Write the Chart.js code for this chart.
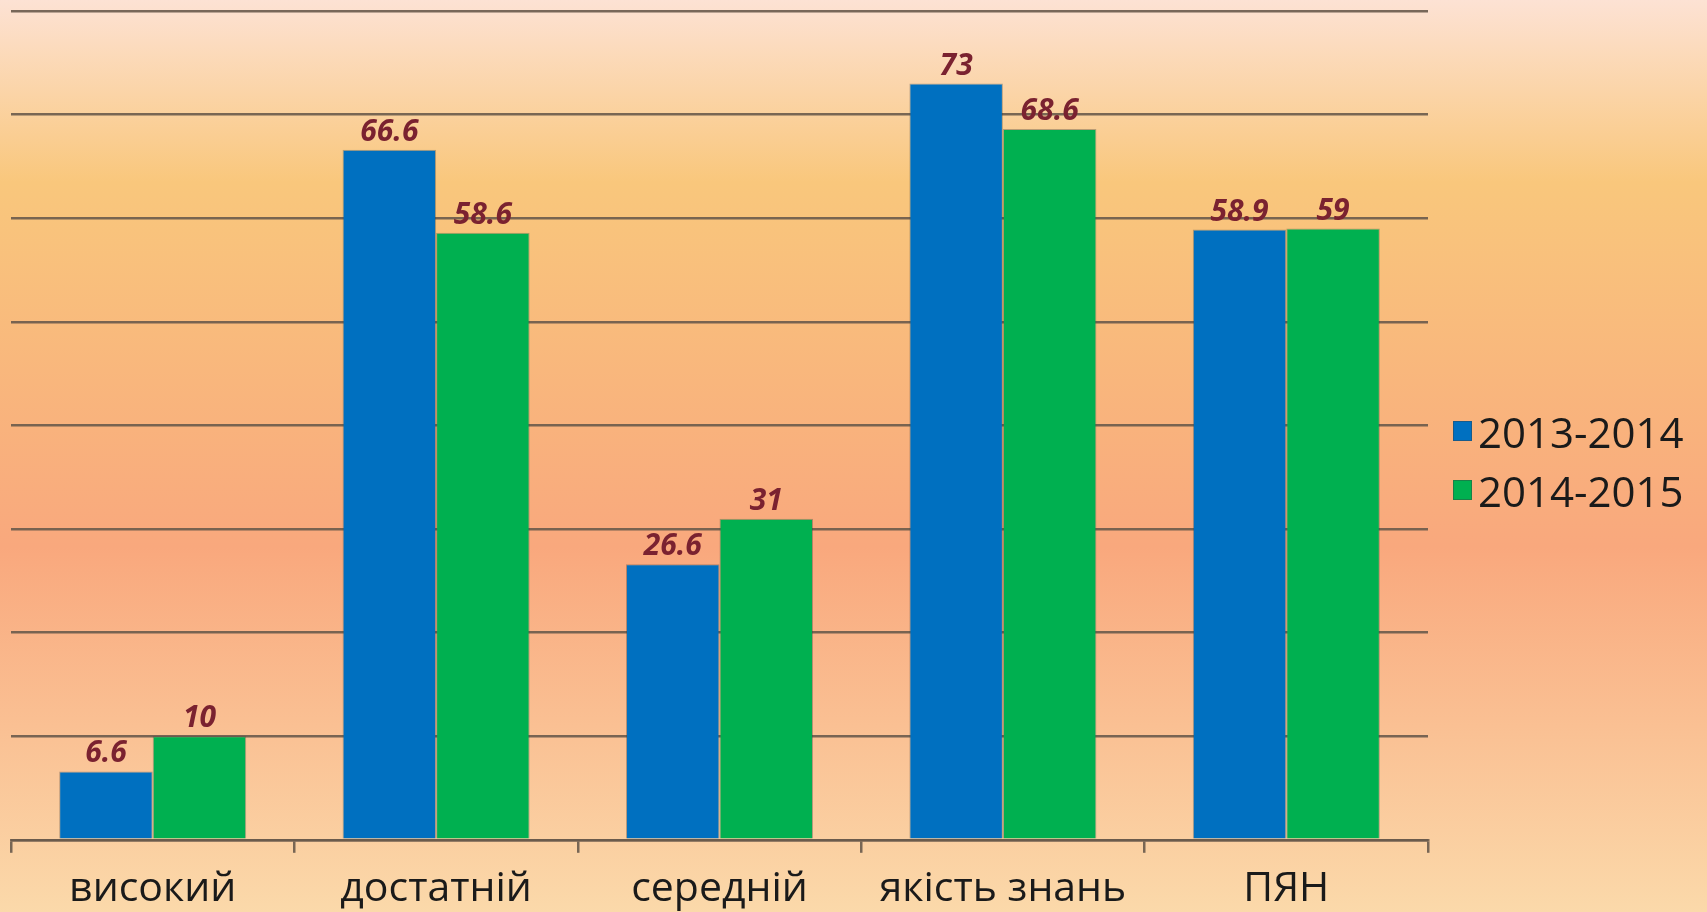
<!DOCTYPE html>
<html lang="uk">

<head>
    <meta charset="UTF-8">
    <title>Рівень навчальних досягнень</title>
    <script src="https://cdn.jsdelivr.net/npm/chart.js@4.4.1/dist/chart.umd.min.js"></script>
    <style>
        body { margin: 0; }
        #wrap { width: 1707px; height: 912px; position: relative; }
    </style>
</head>

<body>
    <div id="wrap"><canvas id="myChart"></canvas></div>
</body>
<script>
    const categories = ['високий', 'достатній', 'середній', 'якість знань', 'ПЯН'];
    const seriesNames = ['2013-2014', '2014-2015'];
    const values2013 = [6.6, 66.6, 26.6, 73, 58.9];
    const values2014 = [10, 58.6, 31, 68.6, 59];
    const barColors = ['#0070c0', '#00b050'];

    // background gradient over the whole canvas
    const bgPlugin = {
        id: 'bg',
        beforeDraw(chart) {
            const c = chart.ctx;
            const g = c.createLinearGradient(0, 0, 0, chart.height);
            g.addColorStop(0, '#fde2d4');
            g.addColorStop(0.2, '#f9c77c');
            g.addColorStop(0.6, '#f9a87d');
            g.addColorStop(1, '#fbd9aa');
            c.save();
            c.fillStyle = g;
            c.fillRect(0, 0, chart.width, chart.height);
            c.restore();
        }
    };

    // values above bars
    const labelPlugin = {
        id: 'valueLabels',
        afterDatasetsDraw(chart) {
            const c = chart.ctx;
            c.save();
            c.font = 'italic bold 30px "Open Sans"';
            c.fillStyle = '#7a2230';
            c.textAlign = 'center';
            c.textBaseline = 'alphabetic';
            chart.data.datasets.forEach((ds, i) => {
                chart.getDatasetMeta(i).data.forEach((bar, j) => {
                    c.fillText(String(ds.data[j]), bar.x, bar.y - 9);
                });
            });
            c.restore();
        }
    };

    // legend on the right, drawn by hand
    const legendPlugin = {
        id: 'sideLegend',
        afterDraw(chart) {
            const c = chart.ctx;
            c.save();
            c.font = '42px "Open Sans"';
            c.textBaseline = 'alphabetic';
            c.textAlign = 'left';
            chart.data.datasets.forEach((ds, i) => {
                const base = 448 + i * 59;
                c.fillStyle = ds.backgroundColor;
                c.fillRect(1453, base - 27, 19, 20);
                c.strokeStyle = 'rgba(60,60,60,0.4)';
                c.lineWidth = 1;
                c.strokeRect(1453.5, base - 26.5, 18, 19);
                c.fillStyle = '#1a1a1a';
                c.fillText(ds.label, 1478, base);
            });
            c.restore();
        }
    };

    var ctx = document.getElementById('myChart').getContext('2d');
    var chart = new Chart(ctx, {
        type: 'bar',
        data: {
            labels: categories,
            datasets: [{
                label: seriesNames[0],
                data: values2013,
                backgroundColor: barColors[0],
                borderColor: 'rgba(60,60,60,0.35)',
                borderWidth: 1,
                categoryPercentage: 0.66,
                barPercentage: 1
            }, {
                label: seriesNames[1],
                data: values2014,
                backgroundColor: barColors[1],
                borderColor: 'rgba(60,60,60,0.35)',
                borderWidth: 1,
                categoryPercentage: 0.66,
                barPercentage: 1
            }]
        },
        options: {
            responsive: true,
            maintainAspectRatio: false,
            animation: false,
            layout: { padding: { left: 11, right: 279, top: 11, bottom: -14 } },
            plugins: {
                legend: { display: false },
                tooltip: { enabled: false }
            },
            scales: {
                x: {
                    grid: {
                        drawOnChartArea: false,
                        drawTicks: true,
                        tickLength: 13,
                        color: 'rgba(105,90,75,0.9)',
                        lineWidth: 2.5
                    },
                    border: { display: true, color: 'rgba(105,90,75,0.9)', width: 2.5 },
                    ticks: {
                        color: '#1a1a1a',
                        font: { family: '"Open Sans"', size: 41 },
                        padding: 12,
                        maxRotation: 0
                    }
                },
                y: {
                    min: 0,
                    max: 80,
                    ticks: { display: false, stepSize: 10 },
                    grid: {
                        drawTicks: false,
                        color: 'rgba(105,90,75,0.9)',
                        lineWidth: 2.5
                    },
                    border: { display: false }
                }
            }
        },
        plugins: [bgPlugin, labelPlugin, legendPlugin]
    });
</script>

</html>
